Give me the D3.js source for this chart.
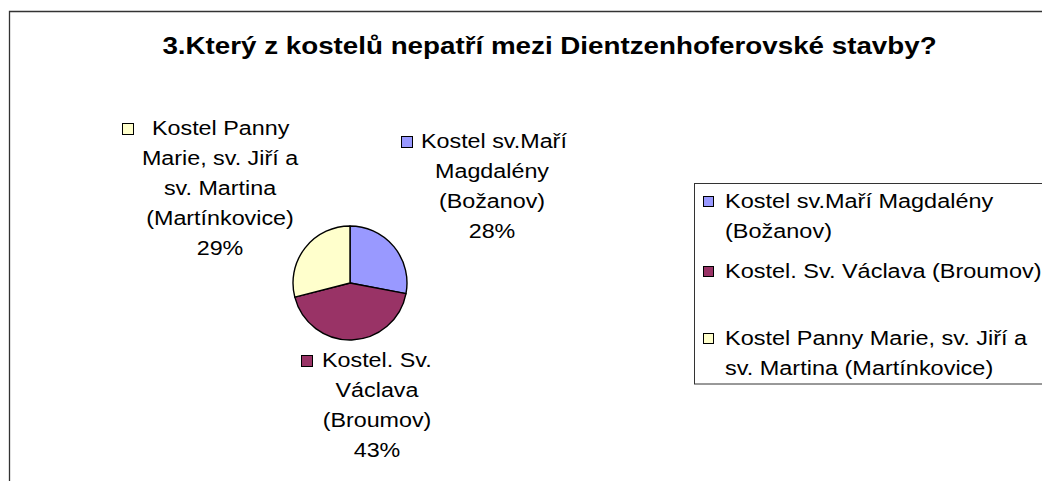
<!DOCTYPE html>
<html><head><meta charset="utf-8">
<script src="https://cdn.jsdelivr.net/npm/d3@7"></script>
<style>
html,body{margin:0;padding:0;background:#fff;}
svg{display:block;}
text{font-family:"Liberation Sans",Arial,sans-serif;fill:#000;}
</style></head>
<body>
<svg id="chart" width="1042" height="481"></svg>
<script>
const title = "3.Který z kostelů nepatří mezi Dientzenhoferovské stavby?";
const categories = ["Kostel sv.Maří Magdalény (Božanov)", "Kostel. Sv. Václava (Broumov)", "Kostel Panny Marie, sv. Jiří a sv. Martina (Martínkovice)"];
const values = [28, 43, 29];
const colors = ["#9999FF", "#993366", "#FFFFCC"];
const labelLines = [["Kostel sv.Maří", "Magdalény", "(Božanov)"], ["Kostel. Sv.", "Václava", "(Broumov)"], ["Kostel Panny", "Marie, sv. Jiří a", "sv. Martina", "(Martínkovice)"]];
const legendLines = [["Kostel sv.Maří Magdalény", "(Božanov)"], ["Kostel. Sv. Václava (Broumov)"], ["Kostel Panny Marie, sv. Jiří a", "sv. Martina (Martínkovice)"]];

const svg = d3.select("#chart");
const FS = 21, LH = 30, SX = 1.11;

function addText(parent, x, y, str, opt) {
  opt = opt || {};
  const t = parent.append("g").attr("transform", `translate(${x},${y}) scale(${opt.sx || SX},1)`)
    .append("text").attr("x", 0).attr("y", 0)
    .attr("font-size", opt.size || FS)
    .attr("text-anchor", opt.anchor || "start")
    .text(str);
  if (opt.weight) t.attr("font-weight", opt.weight);
  return t;
}

// outer frame
svg.append("path").attr("d", "M9.5,481 V11.5 H1042").attr("fill", "none").attr("stroke", "#333").attr("stroke-width", 1.3);

addText(svg, 549.5, 54, title, {anchor: "middle", size: 24, weight: "bold", sx: 1.157});

// pie
const cx = 350, cy = 283, r = 57;
const total = d3.sum(values);
const pie = d3.pie().sort(null).value(d => d)(values);
const arc = d3.arc().innerRadius(0).outerRadius(r);
const g = svg.append("g").attr("transform", `translate(${cx},${cy})`);
g.selectAll("path").data(pie).join("path")
  .attr("d", arc).attr("fill", (d, i) => colors[i])
  .attr("stroke", "#000").attr("stroke-width", 1.4).attr("stroke-linejoin", "round");

// data labels layout (position of each block)
const labelLayout = [
  {lineX: 492, keyX: 401, textX: 421, y0: 148},
  {lineX: 377, keyX: 301, textX: 322, y0: 367},
  {lineX: 220, keyX: 122, textX: 152, y0: 135}
];
const pct = v => Math.round(v / total * 100) + "%";
labelLines.forEach((lines, i) => {
  const L = labelLayout[i];
  const lg = svg.append("g");
  lg.append("rect").attr("x", L.keyX + 0.5).attr("y", L.y0 - 11.5).attr("width", 11).attr("height", 11)
    .attr("fill", colors[i]).attr("stroke", "#000").attr("stroke-width", 1);
  addText(lg, L.textX, L.y0, lines[0]);
  lines.slice(1).concat([pct(values[i])]).forEach((t, j) => {
    addText(lg, L.lineX, L.y0 + (j + 1) * LH, t, {anchor: "middle"});
  });
});

// legend
svg.append("rect").attr("x", 694.5).attr("y", 183.5).attr("width", 400).attr("height", 200.5)
  .attr("fill", "#fff").attr("stroke", "#333").attr("stroke-width", 1);
const legendY = [208, 278, 345];
legendLines.forEach((lines, i) => {
  const y = legendY[i];
  svg.append("rect").attr("x", 703.5).attr("y", y - 11.5).attr("width", 10).attr("height", 10)
    .attr("fill", colors[i]).attr("stroke", "#000").attr("stroke-width", 1);
  lines.forEach((t, j) => {
    addText(svg, 725, y + j * 29.5, t, {sx: 1.118});
  });
});
</script>
</body></html>
